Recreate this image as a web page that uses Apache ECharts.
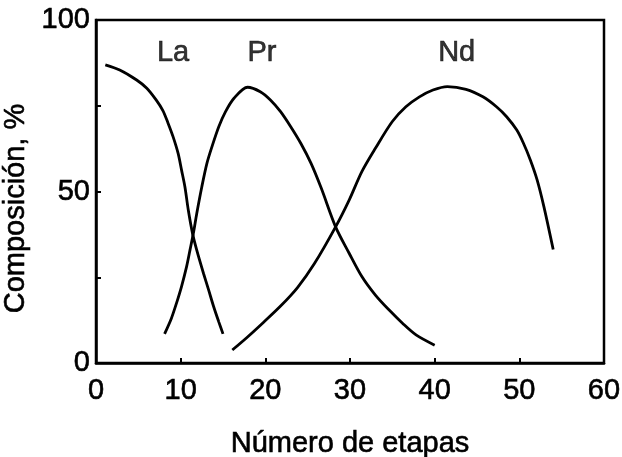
<!DOCTYPE html>
<html><head><meta charset="utf-8">
<script src="https://cdn.jsdelivr.net/npm/echarts@6/dist/echarts.min.js"></script>
<style>html,body{margin:0;padding:0;background:#fff}#c{width:622px;height:457px}</style>
</head><body><div id="c"></div>
<script>
const xTicks = [0, 10, 20, 30, 40, 50, 60];
const yTicks = [0, 50, 100];
const laX = [1.1, 2.8, 4.8, 6.0, 7.1, 7.9, 8.5, 9.1, 9.7, 10.1, 10.5, 10.9, 11.4, 11.9, 12.7, 13.3, 13.9, 14.5, 15.0];
const laY = [86.9, 85.4, 82.5, 80.1, 76.7, 73.6, 70.0, 66.0, 61.1, 56.3, 51.4, 44.6, 37.8, 32.9, 26.1, 21.3, 16.4, 12.0, 8.5];
const prX = [8.1, 8.9, 9.5, 10.1, 10.7, 11.1, 11.5, 11.9, 12.5, 13.1, 13.7, 14.5, 15.3, 16.3, 17.9, 19.4, 20.6, 21.8, 23.0, 24.2, 25.4, 26.6, 28.3, 29.9, 31.4, 33.0, 34.6, 36.2, 37.8, 40.0];
const prY = [8.5, 13.0, 17.4, 22.3, 28.1, 32.9, 37.8, 43.6, 51.4, 58.2, 63.1, 68.9, 73.3, 77.2, 80.4, 79.1, 76.7, 73.3, 68.9, 64.0, 58.2, 51.0, 39.7, 32.0, 25.2, 19.8, 15.5, 11.6, 8.2, 5.2];
const ndX = [16.1, 17.9, 19.8, 21.8, 23.8, 25.8, 28.3, 29.9, 31.4, 33.0, 35.0, 36.6, 38.2, 39.8, 41.5, 43.7, 45.7, 47.3, 48.5, 49.7, 50.5, 51.3, 52.1, 52.9, 54.0];
const ndY = [3.8, 7.6, 11.9, 16.6, 22.0, 29.0, 39.7, 47.5, 55.8, 62.6, 70.4, 74.7, 77.6, 79.6, 80.6, 79.8, 77.6, 74.7, 71.8, 67.9, 64.0, 59.2, 53.4, 45.6, 33.1];
const labelNames = ['La', 'Pr', 'Nd'];
const labelX = [9.1, 19.6, 42.6];
const labelY = [90.3, 90.3, 90.3];

const pairs = (xs, ys) => xs.map((x, i) => [x, ys[i]]);
const font = 'Liberation Sans, Arial, sans-serif';
const txt = { color: '#000', fontFamily: font, textBorderColor: '#000', textBorderWidth: 0.6 };
const lineSeries = (name, xs, ys) => ({
  name, type: 'line', data: pairs(xs, ys), smooth: 0.3, showSymbol: false,
  lineStyle: { color: '#000', width: 2.8 }, silent: true
});
const chart = echarts.init(document.getElementById('c'));
chart.setOption({
  animation: false,
  backgroundColor: '#fff',
  grid: { left: 96, right: 18, top: 20, bottom: 94, containLabel: false, outerBoundsMode: 'none',
          show: true, borderColor: '#000', borderWidth: 2.5 },
  xAxis: {
    type: 'value', min: xTicks[0], max: xTicks[xTicks.length - 1], interval: 10,
    axisLine: { lineStyle: { color: '#000', width: 2.5 } },
    axisTick: { inside: true, length: 5, lineStyle: { color: '#000', width: 2 } },
    splitLine: { show: false },
    axisLabel: Object.assign({ fontSize: 29, margin: 13 }, txt),
    name: 'Número de etapas', nameLocation: 'middle', nameGap: 66,
    nameTextStyle: Object.assign({ fontSize: 29 }, txt)
  },
  yAxis: {
    type: 'value', min: yTicks[0], max: yTicks[yTicks.length - 1], interval: 50,
    axisLine: { lineStyle: { color: '#000', width: 2.5 } },
    axisTick: { inside: true, length: 5, lineStyle: { color: '#000', width: 2 } },
    minorTick: { show: true, splitNumber: 2, length: 5, lineStyle: { color: '#000', width: 2 } },
    splitLine: { show: false },
    axisLabel: Object.assign({ fontSize: 29, margin: 6 }, txt),
    name: 'Composición, %', nameLocation: 'middle', nameGap: 55, nameRotate: 90,
    nameTextStyle: Object.assign({ fontSize: 29, padding: [0, 0, 0, -34] }, txt)
  },
  series: [
    lineSeries('La', laX, laY),
    lineSeries('Pr', prX, prY),
    lineSeries('Nd', ndX, ndY),
    {
      type: 'scatter', symbolSize: 0, silent: true,
      data: labelNames.map((n, i) => ({ value: [labelX[i], labelY[i]], name: n })),
      label: Object.assign({ show: true, position: 'inside', formatter: p => p.name, fontSize: 29 }, txt)
    }
  ]
});
</script></body></html>
